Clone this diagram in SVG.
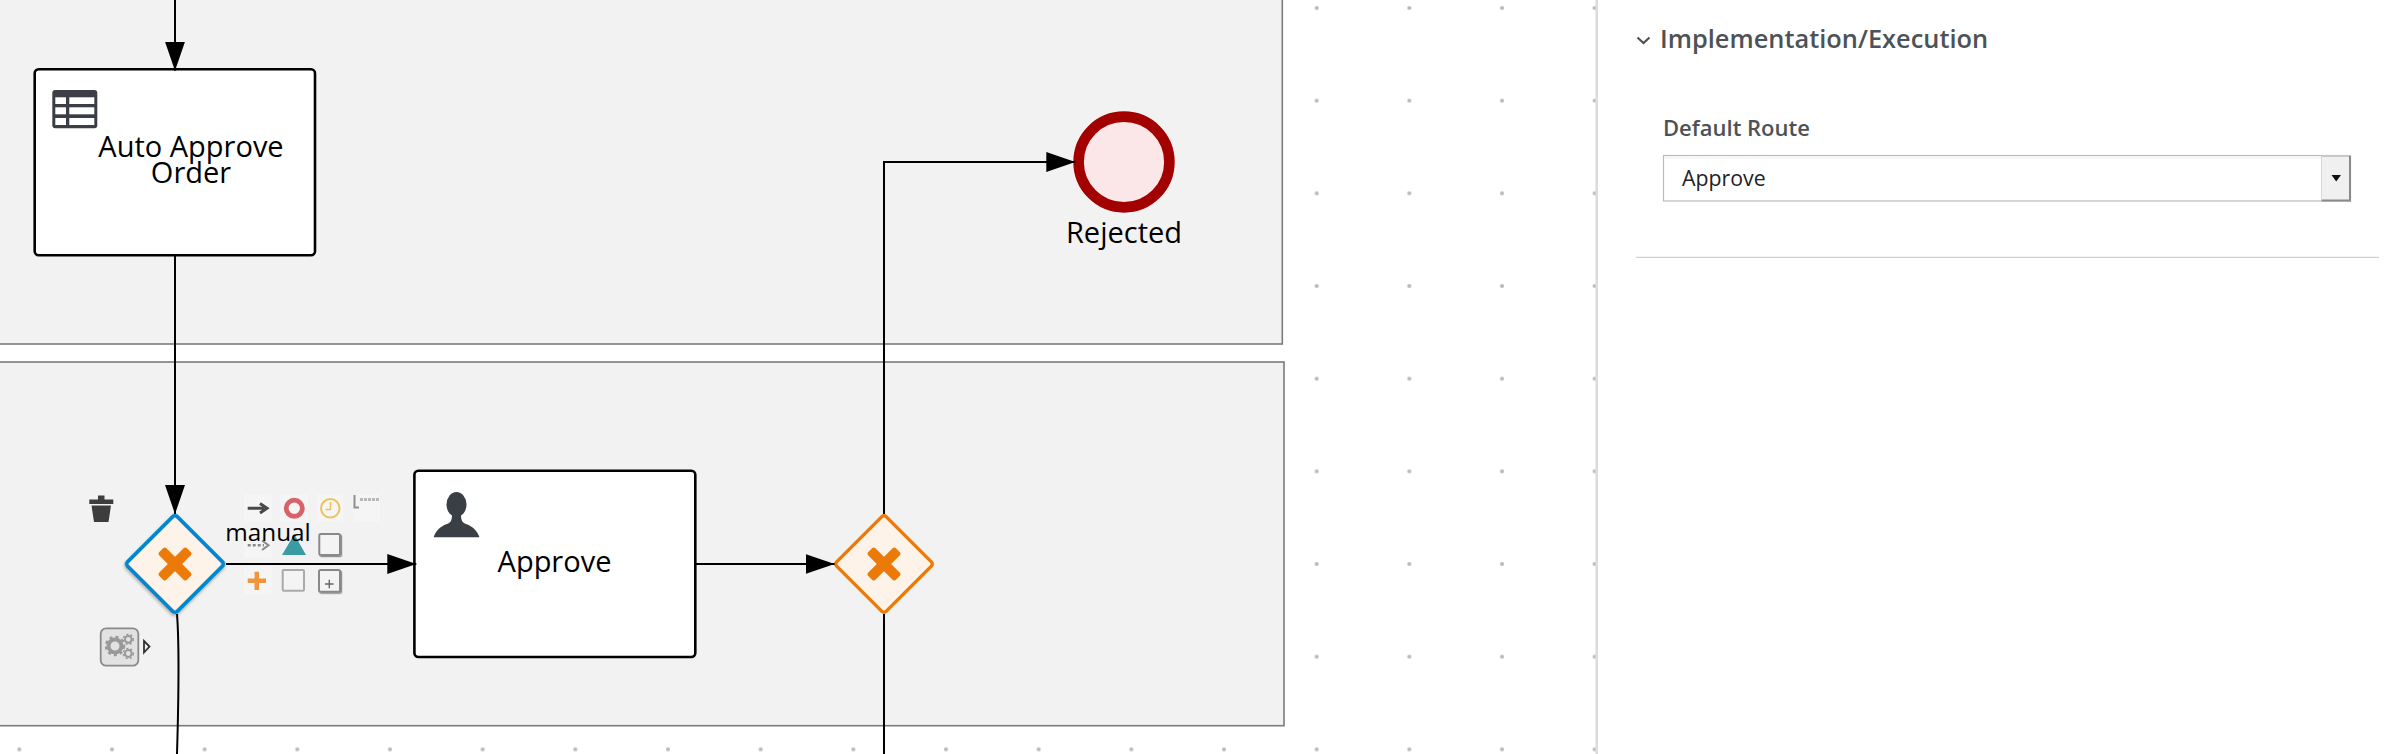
<svg xmlns="http://www.w3.org/2000/svg" width="2408" height="754" viewBox="0 0 2408 754">
  <style>
    text { font-family: "Open Sans", "Noto Sans", "Liberation Sans", sans-serif; fill: #000; }
    .lbl { font-size: 29px; text-anchor: middle; }
    .lane { fill: #f2f2f2; stroke: #7b7b7b; stroke-width: 1.6; }
    .task { fill: #fff; stroke: #000; stroke-width: 2.6; }
    .gw { fill: #fdf3e9; }
    .x { fill: #ec7a08; }
    .flow { fill: none; stroke: #000; stroke-width: 2; }
    .cell { fill: #fff; }
    .slot { fill: #f5f5f5; }
    .panelT { fill: #4d5258; font-weight: 600; }
  </style>
  <defs>
    <marker id="arrow" markerUnits="userSpaceOnUse" markerWidth="30" markerHeight="21" refX="29" refY="10.5" orient="auto">
      <path d="M0 0.5 L29 10.5 L0 20.5 Z" fill="#000"/>
    </marker>
    <pattern id="dots" patternUnits="userSpaceOnUse" x="19.3" y="8" width="92.67" height="92.67">
      <circle cx="0" cy="0" r="2.100" fill="#bbb"/>
      <circle cx="92.67" cy="0" r="2.100" fill="#bbb"/>
      <circle cx="0" cy="92.67" r="2.100" fill="#bbb"/>
      <circle cx="92.67" cy="92.67" r="2.100" fill="#bbb"/>
    </pattern>
    <filter id="soft" x="-10%" y="-10%" width="120%" height="120%"><feGaussianBlur stdDeviation="0.6"/></filter>
    <filter id="shadow" x="-20%" y="-20%" width="140%" height="140%"><feDropShadow dx="1" dy="1.5" stdDeviation="1.5" flood-color="#000" flood-opacity="0.3"/></filter>
    <filter id="iconShadow" x="-20%" y="-20%" width="150%" height="150%"><feDropShadow dx="1.2" dy="1.2" stdDeviation="0.7" flood-color="#000" flood-opacity="0.4"/></filter>
  </defs>

  <rect width="2408" height="754" fill="#fff"/>
  <rect id="grid" width="1596" height="754" fill="url(#dots)"/>

  <g id="lanes">
    <rect id="lane-top" class="lane" x="-10" y="-10" width="1292.3" height="354"/>
    <rect id="lane-bottom" class="lane" x="-10" y="362" width="1294" height="363.7"/>
  </g>

  <g id="task-auto-approve">
    <rect class="task" x="34.700" y="69.300" width="280.300" height="186" rx="4"/>
    <rect x="52.300" y="90" width="45" height="38.300" rx="3" fill="#393f44"/>
    <rect class="cell" x="55.300" y="97.300" width="10.700" height="6.700"/>
    <rect class="cell" x="69.300" y="97.300" width="25" height="6.700"/>
    <rect class="cell" x="55.300" y="107.300" width="10.700" height="7"/>
    <rect class="cell" x="69.300" y="107.300" width="25" height="7"/>
    <rect class="cell" x="55.300" y="118" width="10.700" height="7"/>
    <rect class="cell" x="69.300" y="118" width="25" height="7"/>
    <text class="lbl" x="191" y="156.700">Auto Approve</text>
    <text class="lbl" x="191" y="183.300">Order</text>
  </g>

  <g id="end-rejected">
    <circle cx="1124" cy="162" r="45.400" fill="#fbe7e7" stroke="#a30000" stroke-width="10.600"/>
    <text class="lbl" x="1124" y="243">Rejected</text>
  </g>

  <g id="gateway-manual">
    <rect class="gw" x="140" y="529" width="70" height="70" rx="3" transform="rotate(45 175 564)" stroke="#0088ce" stroke-width="4" filter="url(#shadow)"/>
    <g transform="translate(175 564) rotate(45)">
      <rect class="x" x="-19.500" y="-5" width="39" height="10" rx="2"/>
      <rect class="x" x="-5" y="-19.500" width="10" height="39" rx="2"/>
    </g>
  </g>

  <g id="task-approve">
    <rect class="task" x="414.400" y="470.700" width="280.900" height="186.300" rx="4"/>
    <g fill="#393f44">
      <ellipse cx="456.500" cy="504.500" rx="10" ry="12.500"/>
      <path d="M433.600 537.300 C436 530 441 526 447 524 C450 523 452 521 452 515 L461 515 C461 521 463 523 466 524 C472 526 477 530 479.500 537.300 Z"/>
    </g>
    <text class="lbl" x="554.500" y="571.700">Approve</text>
  </g>

  <g id="gateway-merge">
    <rect class="gw" x="849" y="529" width="70" height="70" rx="3" transform="rotate(45 884 564)" stroke="#ec7a08" stroke-width="3.500"/>
    <g transform="translate(884 564) rotate(45)">
      <rect class="x" x="-19.500" y="-5" width="39" height="10" rx="2"/>
      <rect class="x" x="-5" y="-19.500" width="10" height="39" rx="2"/>
    </g>
  </g>

  <g id="connectors">
    <path class="flow" d="M175 0 L175 70.700" marker-end="url(#arrow)"/>
    <path class="flow" d="M175 256 L175 514" marker-end="url(#arrow)"/>
    <path class="flow" d="M226 564 L416.300 564" marker-end="url(#arrow)"/>
    <path class="flow" d="M696 564 L834.600 564" marker-end="url(#arrow)"/>
    <path class="flow" d="M884 514 L884 162 L1075.300 162" marker-end="url(#arrow)"/>
    <path class="flow" d="M884 614 L884 754"/>
    <path class="flow" d="M177 614 C179 640 179.500 670 177 754"/>
  </g>

  <g id="toolbox" filter="url(#soft)">
    <g id="toolbox-slots">
      <rect class="slot" x="244" y="494.300" width="27.700" height="27.400"/>
      <rect class="slot" x="280" y="494.300" width="28" height="27.400"/>
      <rect class="slot" x="316.700" y="494.300" width="26.600" height="27.400"/>
      <rect class="slot" x="352.700" y="494.300" width="27.300" height="27.400"/>
      <rect class="slot" x="244" y="530.700" width="27.700" height="27.300"/>
      <rect class="slot" x="244" y="566.700" width="27.700" height="27.300"/>
    </g>
    <g id="tool-delete" fill="#3d3d3d">
      <path d="M89.300 499.500 L98 499.500 L98 495.500 L104.500 495.500 L104.500 499.500 L113.300 499.500 L113.300 504 L89.300 504 Z"/>
      <path d="M91.500 505.500 L111 505.500 L108.500 522 L94 522 Z"/>
    </g>
    <path id="tool-flow" d="M247.700 508.300 L264 508.300 M260 503.500 L267 508.300 L260 513" fill="none" stroke="#484848" stroke-width="3"/>
    <circle id="tool-end" cx="294.300" cy="508.300" r="8.100" fill="none" stroke="#d9626a" stroke-width="4.800"/>
    <g id="tool-timer" fill="none">
      <circle cx="330.300" cy="508.300" r="9.300" stroke="#eec15a" stroke-width="2"/>
      <path d="M330.500 502 L330.500 509.500 L325.500 509.500" stroke="#eec15a" stroke-width="1.500"/>
    </g>
    <g id="tool-annotation" fill="none" stroke="#8f8f8f">
      <path d="M354.500 495 L354.500 507.500 L359 507.500" stroke-width="2"/>
      <path d="M360 499.500 L379 499.500" stroke-width="3" stroke-dasharray="3 1" opacity="0.6"/>
    </g>
    <path id="tool-assoc" d="M247.700 545.300 L264 545.300" fill="none" stroke="#8a8a8a" stroke-width="2.500" stroke-dasharray="3 2"/>
    <path d="M262 540.500 L268.500 545.300 L262 550" fill="none" stroke="#8a8a8a" stroke-width="2"/>
    <path id="tool-gateway" d="M294.300 534.300 L306 555 L282 555 Z" fill="#3b9ba3"/>
    <rect id="tool-task" x="319.300" y="534" width="20.700" height="21" rx="1.500" fill="#f4f4f4" stroke="#8a8a8a" stroke-width="2" filter="url(#iconShadow)"/>
    <path id="tool-parallel" d="M247.700 580.700 L266 580.700 M256.800 571.700 L256.800 590" fill="none" stroke="#f0953a" stroke-width="4.500"/>
    <rect id="tool-gw-box" x="282.700" y="570" width="21.300" height="20.700" rx="1" fill="#f4f4f4" stroke="#aaa" stroke-width="2"/>
    <g id="tool-subprocess">
      <rect x="319" y="570" width="21" height="21.700" rx="1.500" fill="#f4f4f4" stroke="#888" stroke-width="2" filter="url(#iconShadow)"/>
      <path d="M325 584 L333.600 584 M329.300 579.700 L329.300 588.300" fill="none" stroke="#666" stroke-width="1.400"/>
    </g>
    <g id="tool-morph">
      <rect x="100.700" y="628.300" width="37.600" height="37.400" rx="5.500" fill="#e2e2e2" stroke="#8a8a8a" stroke-width="1.800"/>
      <circle cx="115" cy="646" r="6.500" fill="none" stroke="#999" stroke-width="4"/>
      <circle cx="115" cy="646" r="9" fill="none" stroke="#999" stroke-width="2.500" stroke-dasharray="3 3.100"/>
      <circle cx="128.300" cy="639.300" r="3.400" fill="none" stroke="#999" stroke-width="2"/>
      <circle cx="128.300" cy="639.300" r="5" fill="none" stroke="#999" stroke-width="1.500" stroke-dasharray="2 2.200"/>
      <circle cx="128.300" cy="653.500" r="3.400" fill="none" stroke="#999" stroke-width="2"/>
      <circle cx="128.300" cy="653.500" r="5" fill="none" stroke="#999" stroke-width="1.500" stroke-dasharray="2 2.200"/>
      <path d="M144 641 L149.500 646.500 L144 652.500 Z" fill="#f2f2f2" stroke="#333" stroke-width="1.800"/>
    </g>
  </g>

  <text id="label-manual" class="lbl" x="268" y="540.700" style="font-size:24.300px">manual</text>

  <g id="properties-panel">
    <rect x="1597.500" y="0" width="811" height="754" fill="#fff"/>
    <rect x="1595.400" y="0" width="2.600" height="754" fill="#dcdcdc"/>
    <path d="M1637.500 37.500 L1643.500 43 L1649.500 37.500" fill="none" stroke="#4d5258" stroke-width="2.200"/>
    <text class="panelT" x="1660" y="48.300" style="font-size:25.400px">Implementation/Execution</text>
    <text class="panelT" x="1663" y="136" style="font-size:22px">Default Route</text>
    <rect x="1663.500" y="155.500" width="687" height="45.500" fill="#fff" stroke="#bbb" stroke-width="1.200"/>
    <rect x="1664" y="156" width="657" height="3" fill="#f6f6f6"/>
    <text x="1682" y="186" style="font-size:21.300px;fill:#222">Approve</text>
    <rect x="2321.500" y="156" width="29" height="44.500" fill="#f0f0f0"/>
    <path d="M2321.500 156 L2350.500 156" stroke="#c8c8c8" stroke-width="2"/>
    <path d="M2350 156 L2350 200.500 L2321.500 200.500" fill="none" stroke="#8a8a8a" stroke-width="2"/>
    <path d="M2321.500 156 L2321.500 200" stroke="#d8d8d8" stroke-width="1"/>
    <path d="M2331.500 175 L2341 175 L2336.200 181.500 Z" fill="#111"/>
    <line x1="1636" y1="257.300" x2="2379" y2="257.300" stroke="#d1d1d1" stroke-width="1.300"/>
  </g>
</svg>
